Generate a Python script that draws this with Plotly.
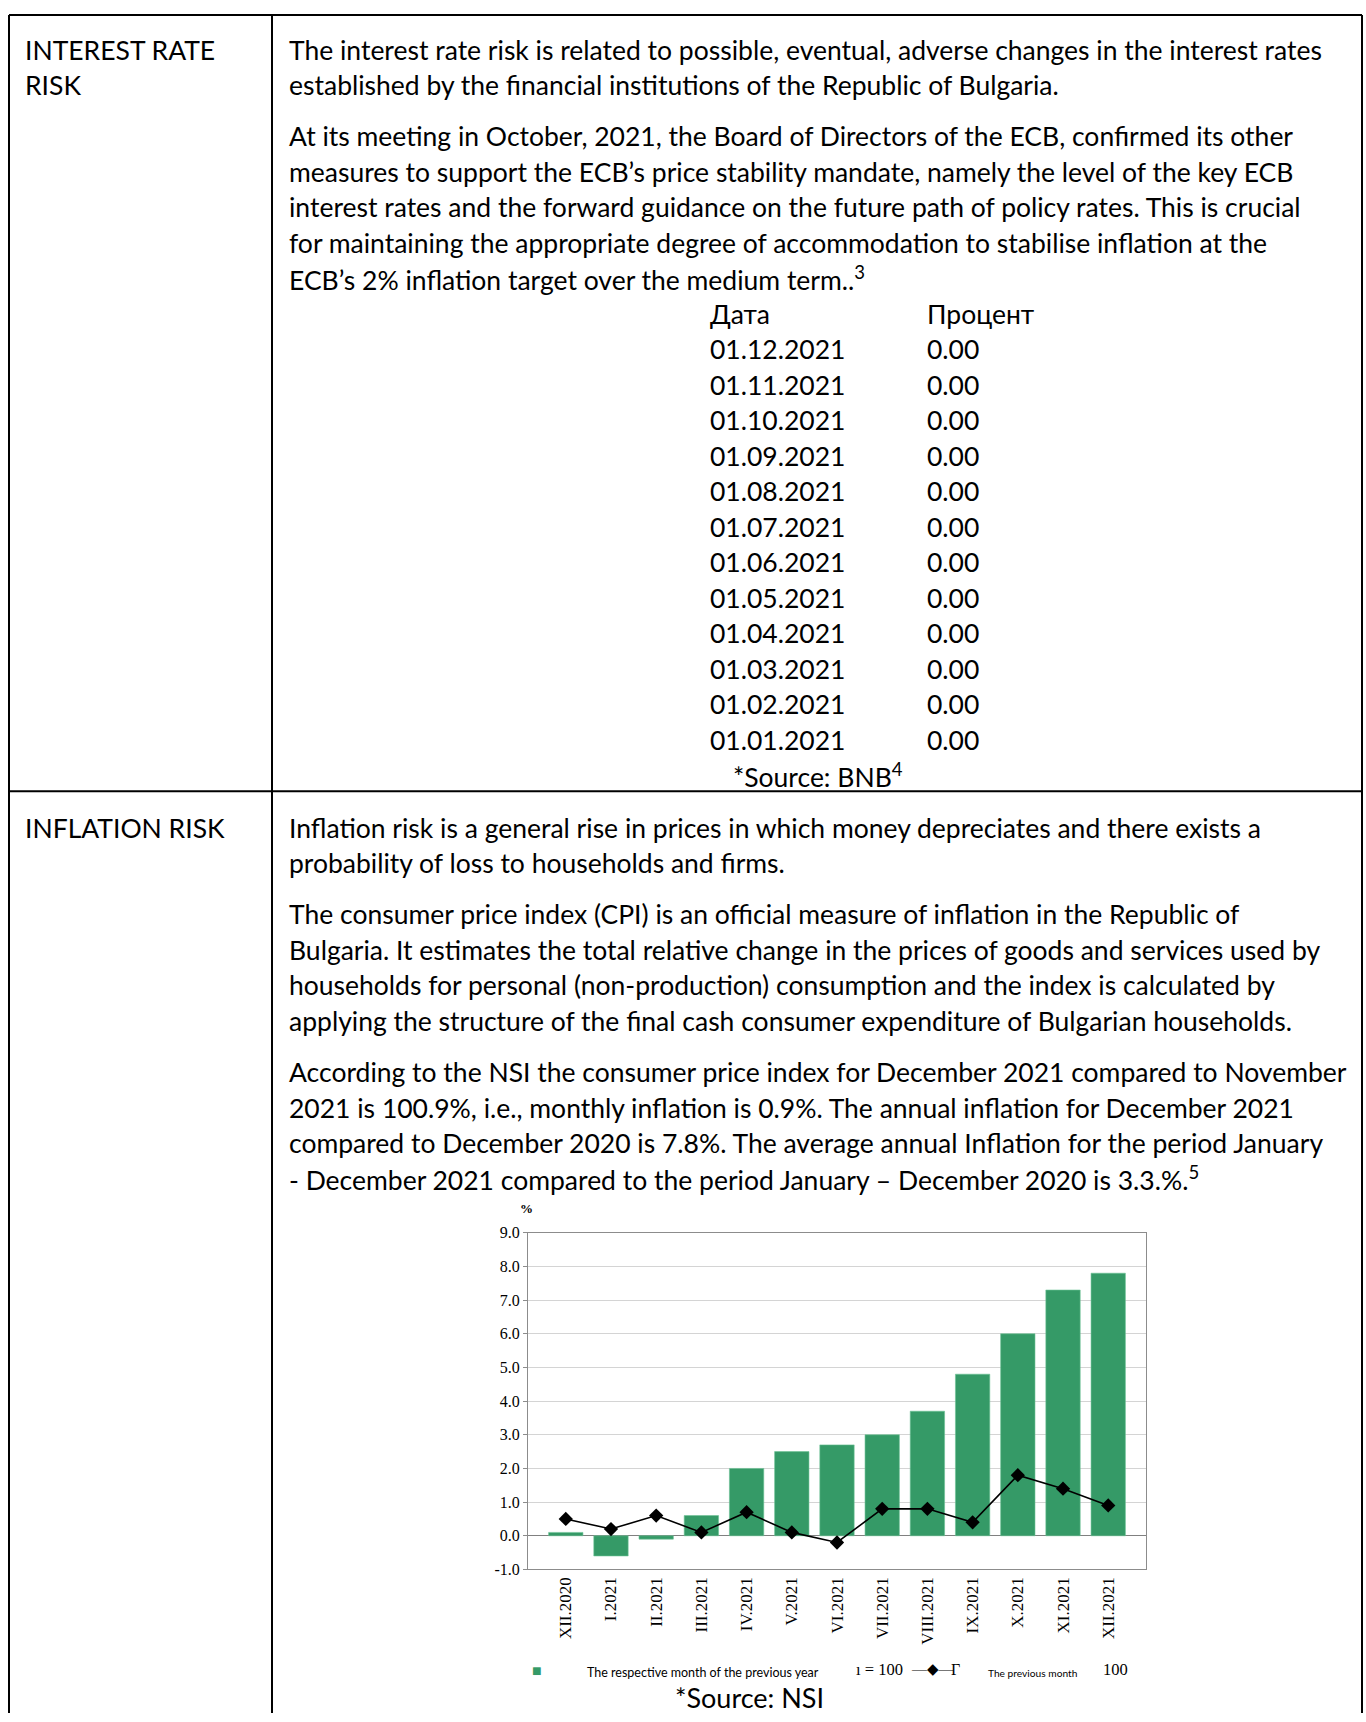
import plotly.graph_objects as go

W, H = 1366, 1722

# ---------------- data ----------------
categories = ["XII.2020", "I.2021", "II.2021", "III.2021", "IV.2021", "V.2021", "VI.2021",
              "VII.2021", "VIII.2021", "IX.2021", "X.2021", "XI.2021", "XII.2021"]
annual_change = [0.1, -0.6, -0.1, 0.6, 2.0, 2.5, 2.7, 3.0, 3.7, 4.8, 6.0, 7.3, 7.8]
monthly_change = [0.5, 0.2, 0.6, 0.1, 0.7, 0.1, -0.2, 0.8, 0.8, 0.4, 1.8, 1.4, 0.9]
y_ticks = [-1.0, 0.0, 1.0, 2.0, 3.0, 4.0, 5.0, 6.0, 7.0, 8.0, 9.0]

rate_dates = ["01.12.2021", "01.11.2021", "01.10.2021", "01.09.2021", "01.08.2021", "01.07.2021",
              "01.06.2021", "01.05.2021", "01.04.2021", "01.03.2021", "01.02.2021", "01.01.2021"]
rate_values = ["0.00"] * 12

row_labels = [["INTEREST RATE", "RISK"], ["INFLATION RISK"]]

para_interest = [
    ["The interest rate risk is related to possible, eventual, adverse changes in the interest rates",
     "established by the financial institutions of the Republic of Bulgaria."],
    ["At its meeting in October, 2021, the Board of Directors of the ECB, confirmed its other",
     "measures to support the ECB’s price stability mandate, namely the level of the key ECB",
     "interest rates and the forward guidance on the future path of policy rates. This is crucial",
     "for maintaining the appropriate degree of accommodation to stabilise inflation at the",
     "ECB’s 2% inflation target over the medium term..<sup>3</sup>"],
]
para_inflation = [
    ["Inflation risk is a general rise in prices in which money depreciates and there exists a",
     "probability of loss to households and firms."],
    ["The consumer price index (CPI) is an official measure of inflation in the Republic of",
     "Bulgaria. It estimates the total relative change in the prices of goods and services used by",
     "households for personal (non-production) consumption and the index is calculated by",
     "applying the structure of the final cash consumer expenditure of Bulgarian households."],
    ["According to the NSI the consumer price index for December 2021 compared to November",
     "2021 is 100.9%, i.e., monthly inflation is 0.9%. The annual inflation for December 2021",
     "compared to December 2020 is 7.8%. The average annual Inflation for the period January",
     "- December 2021 compared to the period January – December 2020 is 3.3.%.<sup>5</sup>"],
]
legend_bar_label = "The respective month of the previous year"
legend_line_label = "The previous month"
source_bnb = "*Source: BNB<sup>4</sup>"
source_nsi = "*Source: NSI"

# ---------------- helpers ----------------
def px(x):
    return x / W

def py(y):
    return 1 - y / H

BODY_FONT = "Lato, 'Noto Sans', sans-serif"
SERIF = "'Liberation Serif', 'DejaVu Serif', serif"
BODY_SIZE = 26.5

annotations = []

def text(x, y, s, size=BODY_SIZE, family=BODY_FONT, anchor="left", color="black"):
    annotations.append(dict(x=px(x), y=py(y), xref="paper", yref="paper", text=s,
                            showarrow=False, xanchor=anchor, yanchor="middle",
                            font=dict(family=family, size=size, color=color)))

# ---------------- page text ----------------
LINE = 35.9
text(23, 42, row_labels[0][0])
text(23, 78, row_labels[0][1])
text(23, 828, row_labels[1][0])

TX = 287
y = 42
for i, para in enumerate(para_interest):
    if i > 0:
        y += 15.6
    for ln in para:
        text(TX, y, ln)
        y += LINE

# rate table
ty = 309
text(708, ty, "Дата")
text(925, ty, "Процент")
for i, (d, v) in enumerate(zip(rate_dates, rate_values)):
    text(708, ty + (i + 1) * 35.85, d)
    text(925, ty + (i + 1) * 35.85, v)
text(818, 775, source_bnb, anchor="center")

y = 828
for i, para in enumerate(para_inflation):
    if i > 0:
        y += 15.6
    for ln in para:
        text(TX, y, ln)
        y += LINE

# chart legend (as drawn in the source image)
text(537, 1678, "■", size=16, color="#359a67", anchor="center")
text(585, 1681, legend_bar_label, size=12.5)
text(854, 1678, "ı = 100", size=16.5, family=SERIF)
text(909, 1678, "—◆—", size=15, family=SERIF)
text(949, 1678, "Γ", size=16, family=SERIF)
text(986, 1682, legend_line_label, size=10.2)
text(1101, 1678, "100", size=16.5, family=SERIF)
text(526, 1212, "<b>%</b>", size=13, family=SERIF, anchor="center")
text(749, 1706, source_nsi, size=27, anchor="center")

# ---------------- table borders ----------------
shapes = []
def line(x0, y0, x1, y1, w=2):
    shapes.append(dict(type="line", xref="paper", yref="paper", x0=px(x0), y0=py(y0),
                       x1=px(x1), y1=py(y1), line=dict(color="black", width=w)))

line(9, 7, 1362, 7)
line(9, 7, 9, 1722)
line(1362, 7, 1362, 1722)
line(272, 7, 272, 1722)
line(9, 791, 1362, 791)

# ---------------- chart ----------------
x0p, x1p = px(528), px(1146)
y0p, y1p = py(1577), py(1237)
ymin, ymax = y_ticks[0], y_ticks[-1]
zero_pos = y0p + (0 - ymin) / (ymax - ymin) * (y1p - y0p)

fig = go.Figure()
fig.add_trace(go.Bar(x=categories, y=annual_change, name=legend_bar_label,
                     marker=dict(color="#359a67", line=dict(color="#6cc295", width=0.6))))
fig.add_trace(go.Scatter(x=categories, y=monthly_change, name=legend_line_label,
                         mode="lines+markers",
                         line=dict(color="black", width=1.6),
                         marker=dict(symbol="diamond", size=11, color="black")))

boundaries = [i + 0.5 for i in range(len(categories) - 1)]

fig.update_layout(
    width=W, height=H,
    margin=dict(l=0, r=0, t=0, b=0),
    paper_bgcolor="white", plot_bgcolor="white",
    showlegend=False,
    bargap=0.24,
    xaxis=dict(domain=[x0p, x1p], anchor="y", type="category",
               showline=True, mirror=True, linecolor="#8c8c8c", linewidth=1,
               ticks="", tickangle=-90, showgrid=False,
               tickfont=dict(family=SERIF, size=17, color="black")),
    xaxis2=dict(overlaying="x", anchor="free", position=zero_pos, side="bottom",
                range=[-0.5, len(categories) - 0.5], tickvals=boundaries,
                ticks="outside", ticklen=6, tickcolor="#8c8c8c", tickwidth=1,
                showticklabels=False, showgrid=False, showline=False, zeroline=False),
    yaxis=dict(domain=[y0p, y1p], anchor="x", range=[ymin, ymax],
               tickvals=y_ticks, ticktext=[f"{v:.1f}" for v in y_ticks],
               showgrid=True, gridcolor="#d4d4d4", gridwidth=1,
               zeroline=True, zerolinecolor="#808080", zerolinewidth=1,
               showline=True, mirror=True, linecolor="#8c8c8c", linewidth=1,
               ticks="outside", ticklen=4, tickcolor="#8c8c8c",
               tickfont=dict(family=SERIF, size=16, color="black")),
    annotations=annotations,
    shapes=shapes,
)

fig.write_html("out.html")
